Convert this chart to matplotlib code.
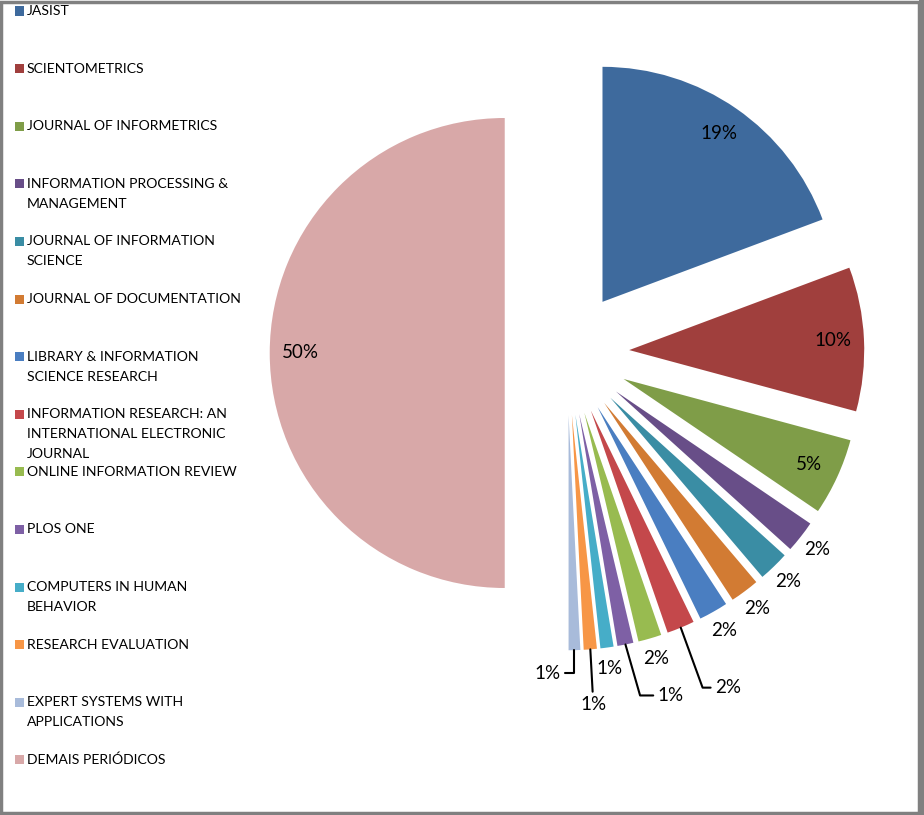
import matplotlib.pyplot as plt
from matplotlib.patches import Rectangle
import numpy as np

# data
journals = ['JASIST', 'SCIENTOMETRICS', 'JOURNAL OF INFORMETRICS',
            'INFORMATION PROCESSING &\nMANAGEMENT', 'JOURNAL OF INFORMATION\nSCIENCE',
            'JOURNAL OF DOCUMENTATION', 'LIBRARY & INFORMATION\nSCIENCE RESEARCH',
            'INFORMATION RESEARCH: AN\nINTERNATIONAL ELECTRONIC\nJOURNAL',
            'ONLINE INFORMATION REVIEW', 'PLOS ONE', 'COMPUTERS IN HUMAN\nBEHAVIOR',
            'RESEARCH EVALUATION', 'EXPERT SYSTEMS WITH\nAPPLICATIONS', 'DEMAIS PERIÓDICOS']
share = [19.3, 9.9, 5.3, 2.2, 2.1, 2.0, 2.0, 1.9, 1.6, 1.1, 0.9, 0.9, 0.8, 50.0]

colors = ['#3E6A9D', '#A03F3D', '#7F9D48', '#684E88', '#3A8DA4', '#D27B33',
          '#4A7EC1', '#C4484B', '#98BB50', '#7E60A5', '#46ADC8', '#F79646',
          '#A8BBDA', '#D8A8A8']

# label placement: 'in' / 'out' or a leader (offset px, connection style)
label_mode = ['in', 'in', 'in', 'out', 'out', 'out', 'out',
              ((47, -60), 'angle,angleA=0,angleB=-70,rad=0'),
              'out',
              ((45, -51), 'angle,angleA=0,angleB=-74,rad=0'),
              'out',
              ((3, -55), 'arc3,rad=0'),
              ((-27, -23), 'angle,angleA=0,angleB=90,rad=0'),
              'in']

FONT = 'Lato'
W, H = 924, 815
fig = plt.figure(figsize=(W / 100, H / 100), dpi=100)

# pie axes, 700px square around the pie centre
R_px = 235
cx, cy = 567, 353
half = 350
ax = fig.add_axes([(cx - half) / W, (H - cy - half) / H, 2 * half / W, 2 * half / H])
wedges, _ = ax.pie(share, colors=colors, startangle=90, counterclock=False,
                   explode=[0.265] * len(share), radius=1.0,
                   wedgeprops=dict(linewidth=0))
L = half / R_px
ax.set_xlim(-L, L)
ax.set_ylim(-L, L)
ax.set_aspect('equal')
ax.axis('off')

total = sum(share)
for w, v, mode in zip(wedges, share, label_mode):
    txt = '%d%%' % int(v / total * 100 + 0.5)
    mid = np.deg2rad((w.theta1 + w.theta2) / 2)
    d = np.array([np.cos(mid), np.sin(mid)])
    c = np.array(w.center)
    if mode == 'in':
        p = c + 0.87 * d
        ax.text(p[0], p[1], txt, ha='center', va='center', fontsize=13.5, family=FONT)
    elif mode == 'out':
        p = c + 1.09 * d
        ax.text(p[0], p[1], txt, ha='center', va='center', fontsize=13.5, family=FONT)
    else:
        off, conn = mode
        p = c + 1.0 * d
        ax.annotate(txt, xy=p, xytext=off, textcoords='offset pixels',
                    ha='center', va='center', fontsize=13.5, family=FONT,
                    arrowprops=dict(arrowstyle='-', color='black', lw=1.5,
                                    connectionstyle=conn, shrinkA=1, shrinkB=0))

# legend on the left
step = 57.6
y0 = 11
for k, (name, col) in enumerate(zip(journals, colors)):
    yk = y0 + k * step
    fig.patches.append(Rectangle((15 / W, 1 - (yk + 4.5) / H), 9 / W, 9 / H,
                                 transform=fig.transFigure, facecolor=col,
                                 edgecolor='none'))
    for j, line in enumerate(name.split('\n')):
        fig.text(27 / W, 1 - (yk + j * 20) / H, line, ha='left', va='center',
                 fontsize=10.1, family=FONT, color='black')

# chart frame
fig.patches.append(Rectangle((0.0015, 0.002), 0.9935, 0.996, transform=fig.transFigure,
                             fill=False, edgecolor='#808080', linewidth=2.5))
fig.patches.append(Rectangle((0.995, 0), 0.005, 1, transform=fig.transFigure,
                             facecolor='#808080', edgecolor='none'))

fig.savefig('out.png', dpi=100)
